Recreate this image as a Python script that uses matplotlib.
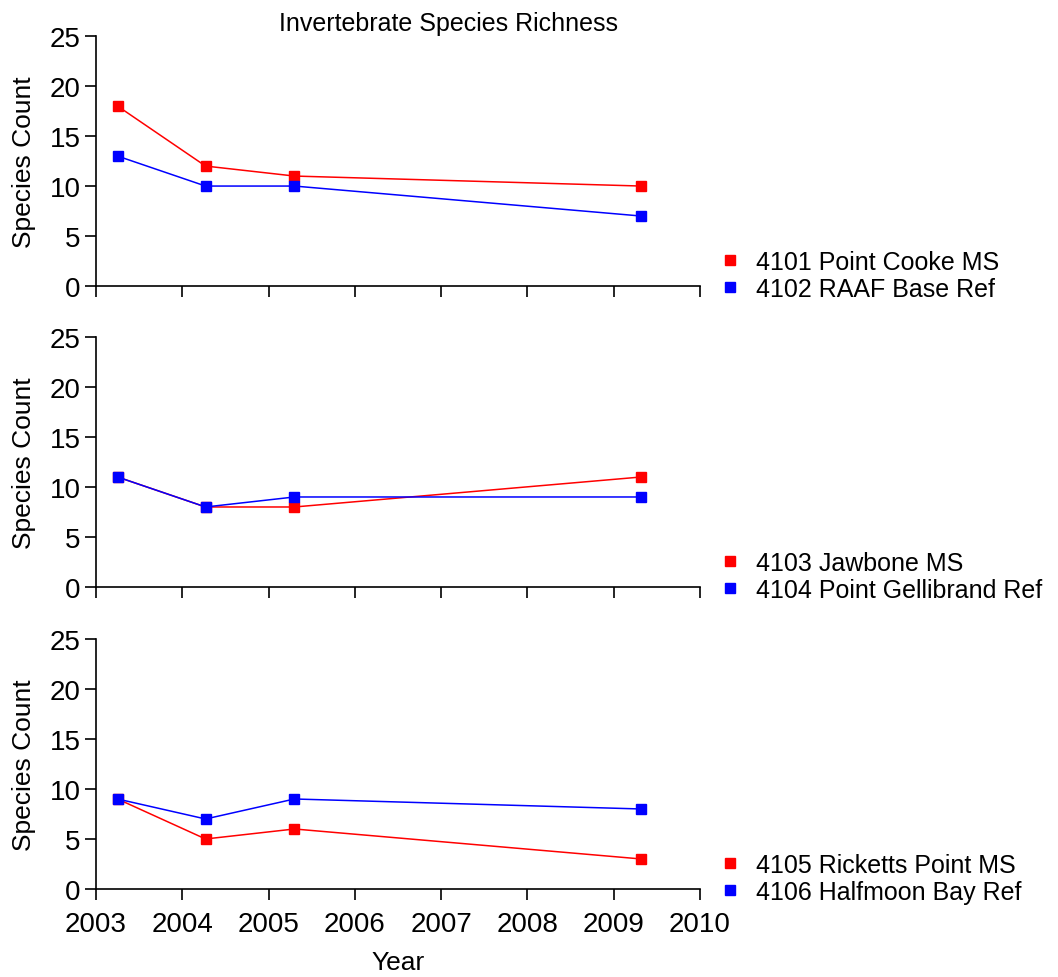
import numpy as np
import matplotlib
matplotlib.use("Agg")
import matplotlib.pyplot as plt

plt.rcParams["font.family"] = ["Liberation Sans", "DejaVu Sans"]

# sampling dates (decimal years)
years = [2003.25, 2004.27, 2005.30, 2009.32]

# site pairs: (label, counts)
site_4101 = ("4101 Point Cooke MS", [18, 12, 11, 10])
site_4102 = ("4102 RAAF Base Ref", [13, 10, 10, 7])
site_4103 = ("4103 Jawbone MS", [11, 8, 8, 11])
site_4104 = ("4104 Point Gellibrand Ref", [11, 8, 9, 9])
site_4105 = ("4105 Ricketts Point MS", [9, 5, 6, 3])
site_4106 = ("4106 Halfmoon Bay Ref", [9, 7, 9, 8])

panels = [(site_4101, site_4102), (site_4103, site_4104), (site_4105, site_4106)]
colors = ["#ff0000", "#0000ff"]

fig = plt.figure(figsize=(10.58, 9.78), dpi=100)

left, width, height = 0.0907, 0.5709, 0.2556
bottoms = [0.7065, 0.3988, 0.0900]

for i, (pair, bottom) in enumerate(zip(panels, bottoms)):
    ax = fig.add_axes([left, bottom, width, height])
    for (label, counts), c in zip(pair, colors):
        ax.plot(years, counts, color=c, lw=1.1, marker="s", ms=7,
                mec=c, mfc=c, label=label, clip_on=False)

    ax.set_xlim(2003, 2010)
    ax.set_ylim(0, 25)
    ax.set_xticks(np.arange(2003, 2011))
    ax.set_yticks(np.arange(0, 26, 5))
    if i < 2:
        ax.set_xticklabels([])
    else:
        ax.set_xlabel("Year", fontsize=19, labelpad=9)
    ax.set_ylabel("Species Count", fontsize=19, labelpad=10)

    for s in ["top", "right"]:
        ax.spines[s].set_visible(False)
    for s in ["left", "bottom"]:
        ax.spines[s].set_linewidth(1.2)
    ax.tick_params(direction="out", length=8, width=1.2, labelsize=20)
    ax.tick_params(axis="x", pad=8)
    ax.tick_params(axis="y", pad=3)

    leg = ax.legend(loc="lower left", bbox_to_anchor=(1.0, -0.15), frameon=False,
                    fontsize=18, handlelength=0.6, handletextpad=0.75,
                    labelspacing=0.12, borderaxespad=0.5)
    for h in leg.legend_handles:
        h.set_linestyle("none")

fig.text(0.424, 0.975, "Invertebrate Species Richness", ha="center", va="center",
         fontsize=18)

plt.savefig("out.png", dpi=100)
plt.close()
